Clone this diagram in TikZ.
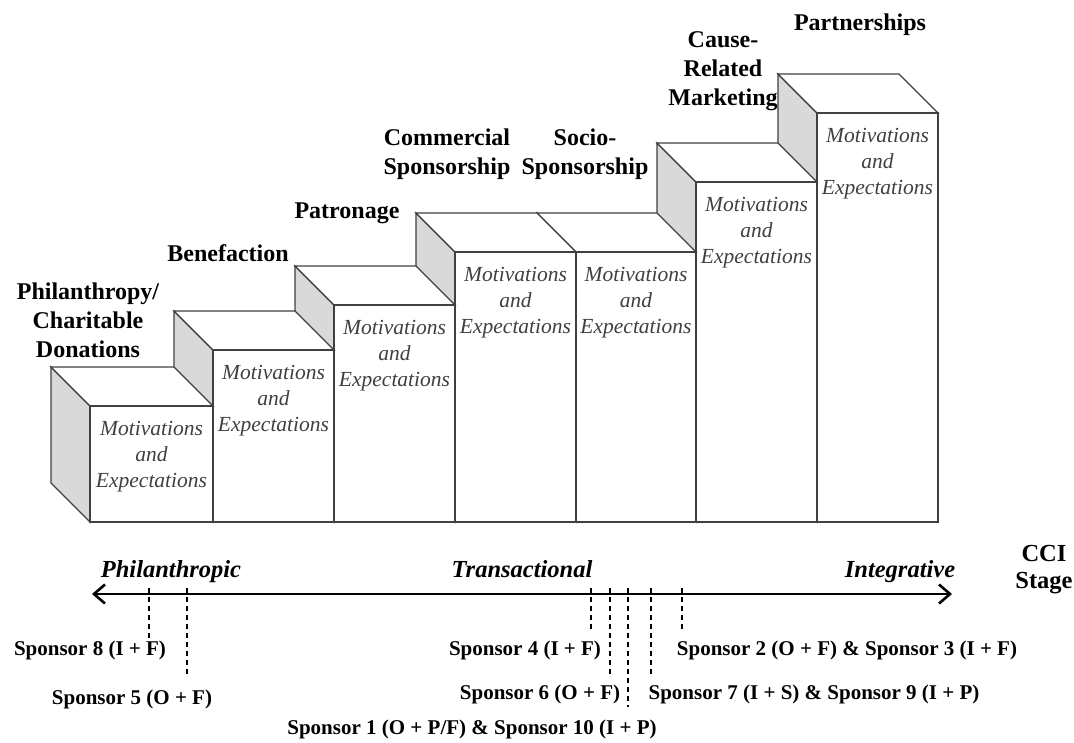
\documentclass[tikz,border=0pt]{standalone}
\usepackage{fontspec}
\setmainfont{Liberation Serif}
\usetikzlibrary{arrows.meta}
\tikzset{
  edgeline/.style={draw=black!75, line width=1.3pt},
  sideface/.style={edgeline, fill=black!15},
  plainface/.style={edgeline, fill=white},
  stagelabel/.style={font=\fontsize{24}{29}\selectfont\bfseries, align=center, inner sep=0pt},
  mebox/.style={font=\fontsize{21.5}{26}\selectfont\itshape, text=black!75, align=center, inner sep=0pt},
  axislabel/.style={font=\fontsize{24.5}{29}\selectfont\bfseries\itshape, inner sep=0pt, anchor=base},
  sponsor/.style={font=\fontsize{21}{25}\selectfont\bfseries, inner sep=0pt},
  tickline/.style={dash pattern=on 5pt off 4pt, line width=1.4pt},
}
% box: left x, right x, top y, name
\newcommand\ccibox[4]{%
  \draw[sideface] (#1-39,#3-39) -- (#1,#3) -- (#1,522) -- (#1-39,483) -- cycle;
  \draw[plainface] (#1-39,#3-39) -- (#2-39,#3-39) -- (#2,#3) -- (#1,#3) -- cycle;
  \draw[plainface] (#1,#3) rectangle (#2,522);
  \node[mebox] (#4) at ({(#1+#2)/2},#3+51) {Motivations\\and\\Expectations};
}
\begin{document}
\begin{tikzpicture}[x=1pt,y=-1pt]
\useasboundingbox (0,0) rectangle (1074,742);
% boxes, back to front
\ccibox{817}{938}{113}{me7}
\ccibox{696}{817}{182}{me6}
\ccibox{576}{696}{252}{me5}
\ccibox{455}{576}{252}{me4}
\ccibox{334}{455}{305}{me3}
\ccibox{213}{334}{350}{me2}
\ccibox{90}{213}{406}{me1}
% stage labels
\node[stagelabel] (l1) at (88,320) {Philanthropy/\\Charitable\\Donations};
\node[stagelabel] (l2) at (228,253) {Benefaction};
\node[stagelabel] (l3) at (347,213) {Patronage};
\node[stagelabel] (l4) at (447,154) {Commercial\\Sponsorship};
\node[stagelabel] (l5) at (585,154) {Socio-\\Sponsorship};
\node[stagelabel] (l6) at (723,71) {Cause-\\Related\\Marketing};
\node[stagelabel] (l7) at (860,25) {Partnerships};
% axis
\coordinate (axL) at (92,594);
\coordinate (axR) at (952,594);
\draw[line width=2.6pt, {Straight Barb[length=11pt,width=19pt]}-{Straight Barb[length=11pt,width=19pt]}] (axL) -- (axR);
\node[axislabel] (ph) at (171,577) {Philanthropic};
\node[axislabel] (tr) at (522,577) {Transactional};
\node[axislabel] (in) at (900,577) {Integrative};
\node[stagelabel, font=\fontsize{24.5}{27}\selectfont\bfseries] (cci) at (1044,570) {CCI\\Stage};
% ticks
\foreach \n/\x/\e in {t8/149/640, t5/187/677, t4/591/632, t6/610/677, t1/628/707, t7/651/677, t2/682/632}{
  \coordinate (\n a) at (\x,588);
  \coordinate (\n b) at (\x,\e);
  \draw[tickline] (\n a) -- (\n b);
}
% sponsors
\node[sponsor] (s8) at (90,650) {Sponsor 8 (I + F)};
\node[sponsor] (s5) at (132,699) {Sponsor 5 (O + F)};
\node[sponsor] (s4) at (525,650) {Sponsor 4 (I + F)};
\node[sponsor] (s6) at (540,694) {Sponsor 6 (O + F)};
\node[sponsor] (s1) at (472,729) {Sponsor 1 (O + P/F) \& Sponsor 10 (I + P)};
\node[sponsor] (s2) at (847,650) {Sponsor 2 (O + F) \& Sponsor 3 (I + F)};
\node[sponsor] (s7) at (814,694) {Sponsor 7 (I + S) \& Sponsor 9 (I + P)};
\end{tikzpicture}
\end{document}
